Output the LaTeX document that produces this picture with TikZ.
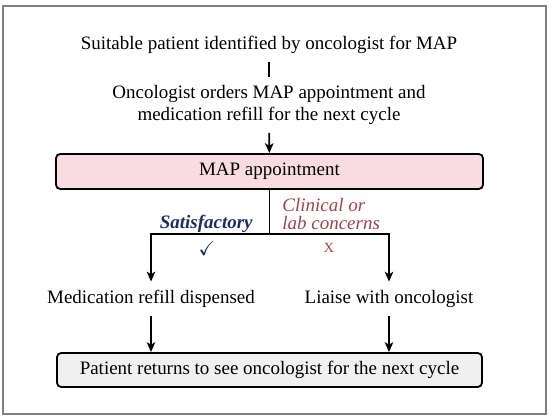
\documentclass[tikz,border=0pt]{standalone}
\usepackage{fontspec}
\setmainfont{Liberation Serif}
\usepackage{amssymb}
\usetikzlibrary{arrows.meta,positioning,calc}
\definecolor{mappink}{HTML}{F9DCE2}
\definecolor{mapgrey}{HTML}{F0F0F0}
\definecolor{mapblue}{HTML}{1F2A6E}
\definecolor{mapred}{HTML}{A2404E}
\definecolor{mapframe}{HTML}{7F7F7F}

\begin{document}
\begin{tikzpicture}[
  x=0.25mm, y=-0.25mm,
  plain/.style={font=\fontsize{13.5}{15}\selectfont, align=center, inner sep=6pt},
  mapbox/.style={draw=black, line width=1.3pt, rounded corners=3pt, fill=mappink,
                 font=\fontsize{13.5}{15}\selectfont,
                 minimum width=106.75mm, minimum height=8.75mm},
  endbox/.style={draw=black, line width=1.3pt, rounded corners=3pt, fill=mapgrey,
                 font=\fontsize{13.5}{15}\selectfont,
                 minimum width=106.25mm, minimum height=8.5mm},
  link/.style={black, line width=1.2pt},
  arrow/.style={-{Stealth[length=7pt, width=6pt, inset=1.8pt]}, black, line width=1.2pt},
  okay/.style={font=\fontsize{13.5}{14}\selectfont\bfseries\itshape, text=mapblue, inner sep=1pt},
  concern/.style={font=\fontsize{13.5}{12.5}\selectfont\itshape, text=mapred, align=left, inner sep=1pt},
]

  %% Marco exterior
  \useasboundingbox (0,0) rectangle (550,420);
  \draw[mapframe, line width=1pt] (3,6) rectangle (546,414);

  %% Nodos de arriba abajo
  \node[plain] (ident)  at (269,45)  {Suitable patient identified by oncologist for MAP};
  \node[plain] (orders) at (269,105) {Oncologist orders MAP appointment and\\medication refill for the next cycle};
  \node[mapbox] (map)   at (269.5,171.5) {MAP appointment};
  \coordinate (split) at ($(map.south)+(0,44)$);
  \node[plain] (refill) at (151,299) {Medication refill dispensed};
  \node[plain] (liaise) at (389,299) {Liaise with oncologist};
  \node[endbox] (returns) at (269.5,370) {Patient returns to see oncologist for the next cycle};

  %% Flechas
  \draw[link]  (ident) -- (orders);
  \draw[arrow] (orders) -- (map);
  \draw[link]  (map.south) -- (split);
  \draw[arrow] (split) -| (refill.north);
  \draw[arrow] (split) -| (liaise.north);
  \draw[arrow] (refill.south) -- (refill.south |- returns.north);
  \draw[arrow] (liaise.south) -- (liaise.south |- returns.north);

  %% Etiquetas de las ramas
  \node[okay, above left=0pt and 3.8mm of split] (ok) {Satisfactory};
  \node[concern, above right=2pt and 2.8mm of split] (cl) {Clinical or\\lab concerns};
  \node[text=mapblue, font=\Large] (tick) at (207,248) {$\checkmark$};
  \node[text=mapred, font=\normalsize] (cross) at (329,248) {X};

\end{tikzpicture}
\end{document}
